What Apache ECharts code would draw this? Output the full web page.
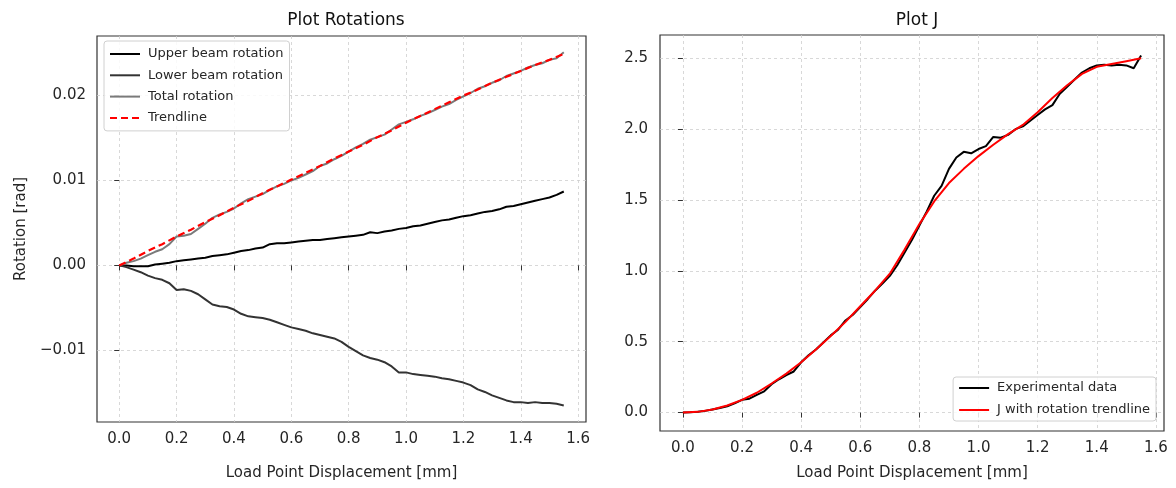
<!DOCTYPE html>
<html>
<head>
<meta charset="utf-8">
<script src="https://cdn.jsdelivr.net/npm/echarts@6/dist/echarts.min.js"></script>
<style>
html,body{margin:0;padding:0;background:#fff;}
#chart{width:1176px;height:488px;}
</style>
</head>
<body>
<div id="chart"></div>
<script>
// ---- Data ----
const disp = [0,0.025,0.05,0.075,0.1,0.125,0.15,0.175,0.2,0.225,0.25,0.275,0.3,0.325,0.35,0.375,0.4,0.425,0.45,0.475,0.5,0.525,0.55,0.575,0.6,0.625,0.65,0.675,0.7,0.725,0.75,0.775,0.8,0.825,0.85,0.875,0.9,0.925,0.95,0.975,1.0,1.025,1.05,1.075,1.1,1.125,1.15,1.175,1.2,1.225,1.25,1.275,1.3,1.325,1.35,1.375,1.4,1.425,1.45,1.475,1.5,1.525,1.55];

const upperRot = [0,0,-0.0001,-0.0001,-0.0001,0.0001,0.0002,0.0003,0.0005,0.0006,0.0007,0.0008,0.0009,0.0011,0.0012,0.0013,0.0015,0.0017,0.0018,0.0020,0.0021,0.0025,0.0026,0.0026,0.0027,0.0028,0.0029,0.0030,0.0030,0.0031,0.0032,0.0033,0.0034,0.0035,0.0036,0.0039,0.0038,0.0040,0.0041,0.0043,0.0044,0.0046,0.0047,0.0049,0.0051,0.0053,0.0054,0.0056,0.0058,0.0059,0.0061,0.0063,0.0064,0.0066,0.0069,0.0070,0.0072,0.0074,0.0076,0.0078,0.0080,0.0083,0.0087];

const lowerRot = [0,-0.0002,-0.0005,-0.0008,-0.0012,-0.0015,-0.0017,-0.0021,-0.0029,-0.0028,-0.0030,-0.0034,-0.0040,-0.0046,-0.0048,-0.0049,-0.0052,-0.0057,-0.0060,-0.0061,-0.0062,-0.0064,-0.0067,-0.0070,-0.0073,-0.0075,-0.0077,-0.0080,-0.0082,-0.0084,-0.0086,-0.0090,-0.0096,-0.0101,-0.0106,-0.0109,-0.0111,-0.0114,-0.0119,-0.0126,-0.0126,-0.0128,-0.0129,-0.0130,-0.0131,-0.0133,-0.0134,-0.0136,-0.0138,-0.0141,-0.0146,-0.0149,-0.0153,-0.0156,-0.0159,-0.0161,-0.0161,-0.0162,-0.0161,-0.0162,-0.0162,-0.0163,-0.0165];

const totalRot = [0,0.0003,0.0005,0.0008,0.0012,0.0016,0.0019,0.0025,0.0034,0.0035,0.0037,0.0043,0.0049,0.0056,0.0060,0.0063,0.0067,0.0073,0.0078,0.0081,0.0084,0.0089,0.0093,0.0096,0.0100,0.0103,0.0107,0.0111,0.0117,0.0120,0.0125,0.0129,0.0134,0.0139,0.0143,0.0148,0.0151,0.0154,0.0160,0.0166,0.0169,0.0172,0.0176,0.0179,0.0183,0.0187,0.0190,0.0195,0.0199,0.0203,0.0208,0.0211,0.0215,0.0218,0.0223,0.0226,0.0229,0.0233,0.0236,0.0238,0.0242,0.0244,0.0251];

const trendX = [0,0.05,0.1,0.15,0.2,0.25,0.3,0.35,0.4,0.45,0.5,0.55,0.6,0.65,0.7,0.75,0.8,0.85,0.9,0.95,1.0,1.05,1.1,1.15,1.2,1.25,1.3,1.35,1.4,1.45,1.5,1.55];

const rotTrend = [0,0.0008,0.0017,0.0025,0.0034,0.0042,0.0051,0.0059,0.0068,0.0076,0.0085,0.0093,0.0101,0.0109,0.0117,0.0126,0.0134,0.0142,0.0151,0.0159,0.0168,0.0176,0.0184,0.0192,0.0200,0.0207,0.0215,0.0222,0.0229,0.0236,0.0242,0.0249];

const jExp = [0,0.002,0.006,0.012,0.022,0.032,0.045,0.065,0.090,0.098,0.125,0.150,0.200,0.235,0.265,0.290,0.355,0.405,0.445,0.495,0.545,0.585,0.650,0.690,0.745,0.800,0.860,0.910,0.965,1.040,1.130,1.220,1.320,1.420,1.530,1.600,1.720,1.800,1.840,1.830,1.860,1.880,1.945,1.940,1.960,2.000,2.020,2.060,2.100,2.140,2.170,2.250,2.300,2.350,2.400,2.430,2.450,2.455,2.450,2.455,2.450,2.430,2.520];

const jTrend = [0,0.005,0.022,0.050,0.090,0.140,0.205,0.275,0.355,0.445,0.540,0.640,0.750,0.860,0.980,1.150,1.330,1.490,1.620,1.720,1.810,1.890,1.965,2.030,2.120,2.220,2.310,2.390,2.440,2.460,2.480,2.500];

const xTicks = [0,0.2,0.4,0.6,0.8,1.0,1.2,1.4,1.6];
const rotTicks = [-0.01,0,0.01,0.02];
const jTicks = [0,0.5,1.0,1.5,2.0,2.5];

// ---- Chart ----
const FONT = 'DejaVu Sans';
const TXT = '#262626';
const pair = (xs, ys) => xs.map((x, i) => [x, ys[i]]);

function xAxisCfg(gridIndex, nameGap) {
  return {
    type: 'value', gridIndex,
    min: -0.0775, max: 1.6275, splitNumber: 8,
    name: 'Load Point Displacement [mm]', nameLocation: 'middle', nameGap,
    nameTextStyle: {fontFamily: FONT, fontSize: 15, color: TXT},
    axisLine: {show: false},
    axisTick: {show: true, inside: false, length: 5, customValues: xTicks, lineStyle: {color: '#333', width: 1}},
    axisLabel: {customValues: xTicks, margin: 10, fontFamily: FONT, fontSize: 15, color: TXT,
      formatter: v => v.toFixed(1)},
    splitLine: {show: true, lineStyle: {color: '#cfcfcf', type: [3, 3], width: 0.8}}
  };
}

const option = {
  animation: false,
  backgroundColor: '#fff',
  title: [
    {text: 'Plot Rotations', left: 341, top: 7, textAlign: 'center',
     textStyle: {fontFamily: FONT, fontSize: 17, fontWeight: 'normal', color: '#111'}},
    {text: 'Plot J', left: 912, top: 7, textAlign: 'center',
     textStyle: {fontFamily: FONT, fontSize: 17, fontWeight: 'normal', color: '#111'}}
  ],
  grid: [
    {left: 97, top: 36, width: 489, height: 386, show: true, borderColor: '#333', borderWidth: 1.2, backgroundColor: 'transparent'},
    {left: 660, top: 35, width: 504, height: 396, show: true, borderColor: '#333', borderWidth: 1.2, backgroundColor: 'transparent'}
  ],
  legend: [
    {
      data: ['Upper beam rotation', 'Lower beam rotation', 'Total rotation', 'Trendline'],
      orient: 'vertical', left: 104, top: 41,
      itemWidth: 30, itemHeight: 14, itemGap: 7.3,
      padding: [6, 6, 6, 5],
      itemStyle: {opacity: 0},
      backgroundColor: 'rgba(255,255,255,0.85)', borderColor: '#d0d0d0', borderWidth: 1, borderRadius: 3,
      textStyle: {fontFamily: FONT, fontSize: 13, color: TXT, lineHeight: 14, padding: [0, 0, 0, 3]}
    },
    {
      data: ['Experimental data', 'J with rotation trendline'],
      orient: 'vertical', right: 20, top: 377,
      itemWidth: 30, itemHeight: 14, itemGap: 8,
      padding: [4, 6, 4, 5],
      itemStyle: {opacity: 0},
      backgroundColor: 'rgba(255,255,255,0.85)', borderColor: '#d0d0d0', borderWidth: 1, borderRadius: 3,
      textStyle: {fontFamily: FONT, fontSize: 13, color: TXT, lineHeight: 14, padding: [0, 0, 0, 3]}
    }
  ],
  xAxis: [xAxisCfg(0, 44), xAxisCfg(1, 35)],
  yAxis: [
    {
      type: 'value', gridIndex: 0, min: -0.01844, max: 0.02701, splitNumber: 5,
      name: 'Rotation [rad]', nameLocation: 'middle', nameGap: 68,
      nameTextStyle: {fontFamily: FONT, fontSize: 15, color: TXT},
      axisLine: {show: false},
      axisTick: {show: true, inside: false, length: 5, customValues: rotTicks, lineStyle: {color: '#333', width: 1}},
      axisLabel: {customValues: rotTicks, margin: 11, fontFamily: FONT, fontSize: 15, color: TXT,
        formatter: v => (v < -1e-9 ? '\u2212' : '') + Math.abs(v).toFixed(2)},
      splitLine: {show: true, lineStyle: {color: '#cfcfcf', type: [3, 3], width: 0.8}}
    },
    {
      type: 'value', gridIndex: 1, min: -0.130, max: 2.6646, splitNumber: 5,
      axisLine: {show: false},
      axisTick: {show: true, inside: false, length: 5, customValues: jTicks, lineStyle: {color: '#333', width: 1}},
      axisLabel: {customValues: jTicks, margin: 12, fontFamily: FONT, fontSize: 15, color: TXT,
        formatter: v => v.toFixed(1)},
      splitLine: {show: true, lineStyle: {color: '#cfcfcf', type: [3, 3], width: 0.8}}
    }
  ],
  series: [
    {name: 'Upper beam rotation', type: 'line', xAxisIndex: 0, yAxisIndex: 0, data: pair(disp, upperRot),
     symbol: 'none', color: '#000', lineStyle: {color: '#000', width: 2}},
    {name: 'Lower beam rotation', type: 'line', xAxisIndex: 0, yAxisIndex: 0, data: pair(disp, lowerRot),
     symbol: 'none', color: '#333', lineStyle: {color: '#333', width: 2}},
    {name: 'Total rotation', type: 'line', xAxisIndex: 0, yAxisIndex: 0, data: pair(disp, totalRot),
     symbol: 'none', color: '#7a7a7a', lineStyle: {color: '#7a7a7a', width: 2}},
    {name: 'Trendline', type: 'line', xAxisIndex: 0, yAxisIndex: 0, data: pair(trendX, rotTrend),
     symbol: 'none', color: '#ff0000', lineStyle: {color: '#ff0000', width: 2.2, type: [7, 4]}},
    {name: 'Experimental data', type: 'line', xAxisIndex: 1, yAxisIndex: 1, data: pair(disp, jExp),
     symbol: 'none', color: '#000', lineStyle: {color: '#000', width: 2}},
    {name: 'J with rotation trendline', type: 'line', xAxisIndex: 1, yAxisIndex: 1, data: pair(trendX, jTrend),
     symbol: 'none', color: '#ff0000', lineStyle: {color: '#ff0000', width: 2}}
  ]
};

const chart = echarts.init(document.getElementById('chart'), null, {renderer: 'canvas'});
chart.setOption(option);
</script>
</body>
</html>
